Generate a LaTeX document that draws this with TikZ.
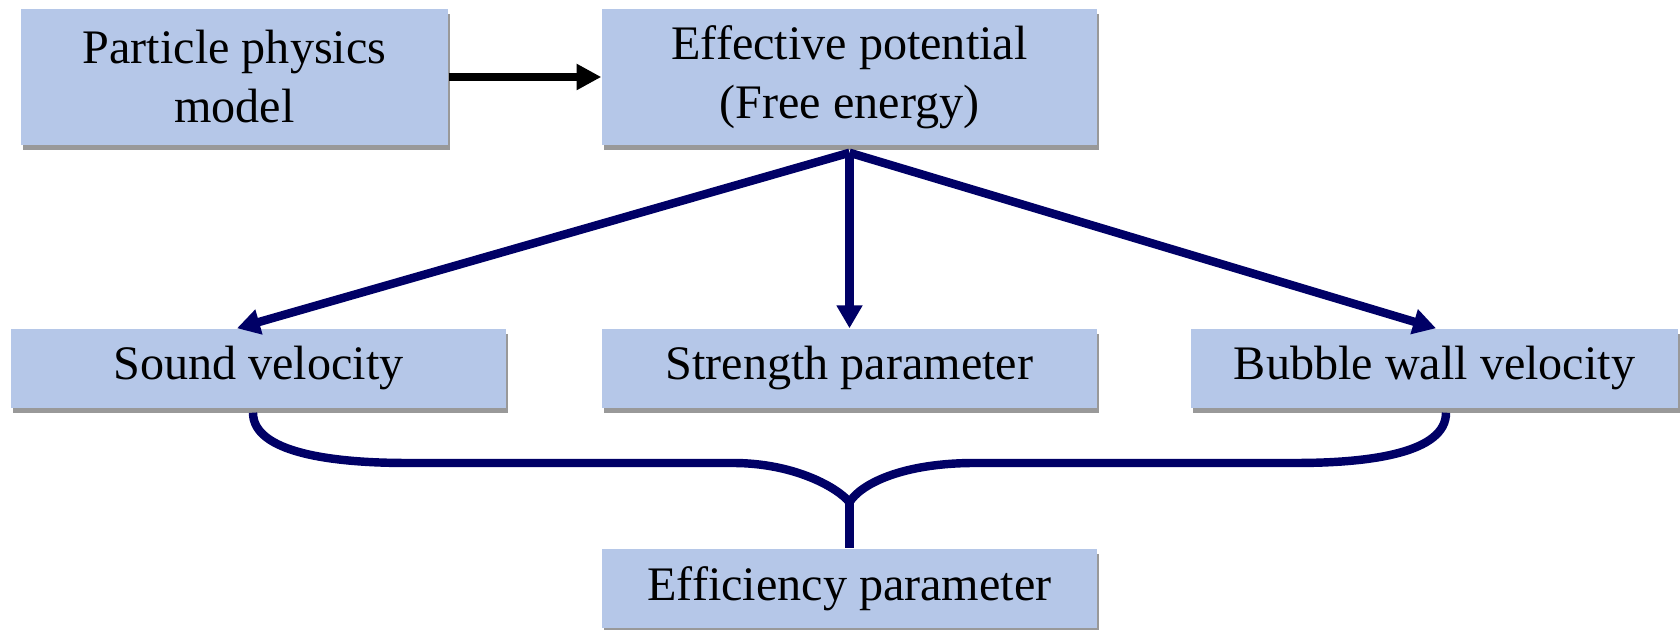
\documentclass[tikz,border=0pt]{standalone}
\usepackage{fontspec}
\setmainfont{Liberation Serif}
\usepackage{tikz}
\usetikzlibrary{arrows.meta}
\usetikzlibrary{positioning}
\usetikzlibrary{shadows}
\tikzset{box/.style = {fill=mblue, inner sep=0, align=center,
                       font=\fontsize{13.7pt}{16.8pt}\selectfont,
                       drop shadow={shadow xshift=0.6pt, shadow yshift=-1.4pt,
                                    fill=black, opacity=0.4}}}
\tikzset{navyline/.style = {draw=mnavy, line width=2.4pt}}
\tikzset{navyarrow/.style = {navyline, -{Triangle[length=6.5pt, width=7pt]}}}
\tikzset{blackarrow/.style = {draw=black, line width=2.2pt,
                              -{Triangle[length=7pt, width=7pt]}}}
\definecolor{mblue}{rgb}{0.71, 0.78, 0.91}
\definecolor{mnavy}{rgb}{0, 0, 0.4}

\begin{document}
\begin{tikzpicture}
      \useasboundingbox (0, 0) rectangle (16.8, 6.3);

      \node [box, minimum width=4.27cm, minimum height=1.36cm] (model) at (2.345, 5.53)
            {Particle physics\\model};
      \node [box, minimum width=4.95cm, minimum height=1.36cm] (pot) at (8.495, 5.53)
            {Effective potential\\(Free energy)};

      \node [box, minimum width=4.95cm, minimum height=0.79cm] (snd) at (2.585, 2.615)
            {Sound velocity};
      \node [box, minimum width=4.95cm, minimum height=0.79cm] (str) at (8.495, 2.615)
            {Strength parameter};
      \node [box, minimum width=4.87cm, minimum height=0.79cm] (wall) at (14.345, 2.615)
            {Bubble wall velocity};

      \node [box, minimum width=4.95cm, minimum height=0.79cm] (eff) at (8.495, 0.415)
            {Efficiency parameter};

      \draw [blackarrow] (model) -- (pot);

      \draw [navyarrow] ([yshift=-2pt]pot.south) -- ([xshift=-0.215cm]snd.north);
      \draw [navyarrow] ([yshift=-2pt]pot.south) -- (str.north);
      \draw [navyarrow] ([yshift=-2pt]pot.south) -- ([xshift=0.015cm]wall.north);

      % brace
      \coordinate (cusp) at ([yshift=0.46cm]eff.north);
      \draw [navyline] ([xshift=-0.055cm, yshift=-0.04cm]snd.south)
            .. controls +(0, -0.4) and +(-0.75, 0) .. (4.07, 1.67)
            -- (7.33, 1.67)
            .. controls (7.95, 1.67) and (8.38, 1.42) .. (cusp);
      \draw [navyline] ([xshift=0.115cm, yshift=-0.04cm]wall.south)
            .. controls +(0, -0.4) and +(0.75, 0) .. (12.96, 1.67)
            -- (9.75, 1.67)
            .. controls (9.0, 1.67) and (8.6, 1.45) .. (cusp);
      \draw [navyline] (cusp) -- (eff.north);
    \end{tikzpicture}
\end{document}
